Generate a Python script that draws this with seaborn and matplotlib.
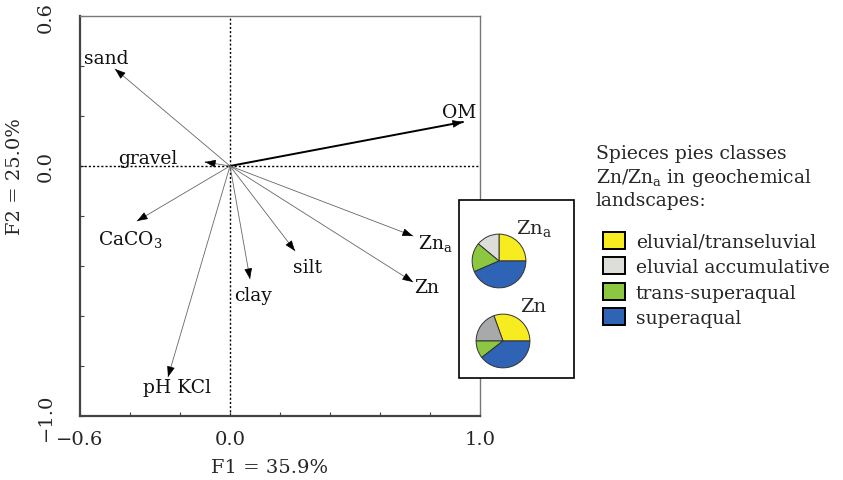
import matplotlib as mpl
import matplotlib.pyplot as plt
from matplotlib.patches import Patch, Rectangle
import seaborn as sns

# variable loadings (F1, F2)
variables = ["sand", "gravel", "OM", "CaCO$_\\mathregular{3}$", "pH KCl", "clay", "silt", "Zn$_\\mathregular{a}$", "Zn"]
f1 = [-0.46, -0.10, 0.932, -0.372, -0.248, 0.08, 0.26, 0.732, 0.732]
f2 = [0.388, 0.016, 0.176, -0.22, -0.844, -0.452, -0.34, -0.28, -0.464]

# pie shares in %
classes = ["eluvial/transeluvial", "eluvial accumulative", "trans-superaqual", "superaqual"]
zna_share = [25.0, 14.0, 17.5, 43.5]
zn_share = [30.5, 19.5, 10.5, 39.5]

# label placement (data coords) and alignment
label_pos = {
    "sand": (-0.496, 0.43, "center"),
    "gravel": (-0.33, 0.03, "center"),
    "OM": (0.916, 0.216, "center"),
    "CaCO$_\\mathregular{3}$": (-0.53, -0.29, "left"),
    "pH KCl": (-0.212, -0.884, "center"),
    "clay": (0.092, -0.516, "center"),
    "silt": (0.308, -0.404, "center"),
    "Zn$_\\mathregular{a}$": (0.75, -0.304, "left"),
    "Zn": (0.788, -0.484, "center"),
}

sns.set_theme(style="ticks")
plt.rcParams["font.family"] = ["DejaVu Serif"]
plt.rcParams["mathtext.fontset"] = "dejavuserif"

W, H = 843, 481
fig = plt.figure(figsize=(W / 100, H / 100), dpi=100)


def px_box(x0, y0, x1, y1):
    return [x0 / W, 1 - y1 / H, (x1 - x0) / W, (y1 - y0) / H]


ax = fig.add_axes(px_box(80, 17, 480, 417))
ax.set_xlim(-0.6, 1.0)
ax.set_ylim(-1.0, 0.6)

ax.axhline(0, color="black", ls=(0, (1.5, 1.5)), lw=1.0, zorder=1)
ax.axvline(0, color="black", ls=(0, (1.5, 1.5)), lw=1.0, zorder=1)

for name, x, y in zip(variables, f1, f2):
    is_om = name == "OM"
    # shaft
    ax.annotate("", xy=(x, y), xytext=(0, 0),
                arrowprops=dict(arrowstyle="-", color="black" if is_om else "#666666",
                                lw=1.4 if is_om else 0.6, shrinkA=0, shrinkB=0),
                zorder=3)
    # black head
    ax.annotate("", xy=(x, y), xytext=(x * 0.97, y * 0.97),
                arrowprops=dict(arrowstyle="-|>,head_length=0.6,head_width=0.22",
                                color="black", lw=0.5, shrinkA=0, shrinkB=0,
                                mutation_scale=11),
                zorder=4)
    lx, ly, ha = label_pos[name]
    ax.text(lx, ly, name, ha=ha, va="center", fontsize=13.5, color="#111111")

ax.set_xticks([-0.6, -0.4, -0.2, 0.0, 0.2, 0.4, 0.6, 0.8, 1.0])
ax.set_xticklabels(["\u22120.6", "", "", "0.0", "", "", "", "", "1.0"], fontsize=14)
ax.set_yticks([-1.0, -0.8, -0.6, -0.4, -0.2, 0.0, 0.2, 0.4, 0.6])
ax.set_yticklabels(["\u22121.0", "", "", "", "", "0.0", "", "", "0.6"], fontsize=14,
                   rotation=90, va="center")
ax.tick_params(direction="in", length=3, width=0.8, color="#444444")
ax.tick_params(axis="x", pad=10)
ax.tick_params(axis="y", pad=18)
for side in ["left", "bottom"]:
    ax.spines[side].set_color("#444444")
    ax.spines[side].set_linewidth(1.6)
for side in ["top", "right"]:
    ax.spines[side].set_color("#777777")
    ax.spines[side].set_linewidth(1.0)

ax.set_xlabel("F1 = 35.9%", fontsize=14)
ax.xaxis.set_label_coords(0.475, -0.105)
ax.set_ylabel("F2 = 25.0%", fontsize=14)
ax.yaxis.set_label_coords(-0.14, 0.6)

# inset box with pies
box = Rectangle((459 / W, 1 - 379 / H), 115 / W, 178 / H, transform=fig.transFigure,
                facecolor="white", edgecolor="black", lw=1.2, zorder=5)
fig.patches.append(box)

colors_a = ["#F6EC1F", "#DDDDD9", "#8DC641", "#2F63B6"]
colors_n = ["#F6EC1F", "#A7A9AB", "#8DC641", "#2F63B6"]

for share, cols, cx, cy, title, tx, ty in [
    (zna_share, colors_a, 499, 262, "Zn$_\\mathregular{a}$", 516, 229),
    (zn_share, colors_n, 503, 342, "Zn", 520, 307),
]:
    pax = fig.add_axes(px_box(cx - 28, cy - 28, cx + 28, cy + 28), zorder=6)
    pax.pie(share, colors=cols, startangle=0, counterclock=True, radius=0.96,
            wedgeprops=dict(edgecolor="#333333", linewidth=0.7))
    pax.set_xlim(-1, 1)
    pax.set_ylim(-1, 1)
    pax.axis("off")
    fig.text(tx / W, 1 - ty / H, title, fontsize=14, va="center", ha="left", zorder=7)

fig.text(596 / W, 1 - 145 / H, "Spieces pies classes\nZn/Zn$_\\mathregular{a}$ in geochemical\nlandscapes:",
         fontsize=13.5, va="top", ha="left", linespacing=1.25)

handles = [Patch(facecolor=c, edgecolor="black", lw=1.4) for c in colors_a]
fig.legend(handles, classes, loc="upper left", bbox_to_anchor=(603 / W, 1 - 233 / H),
           frameon=False, fontsize=13.5, handlelength=1.15, handleheight=1.0,
           handletextpad=0.6, labelspacing=0.35, borderaxespad=0, borderpad=0)

fig.savefig("out.png", dpi=100)
